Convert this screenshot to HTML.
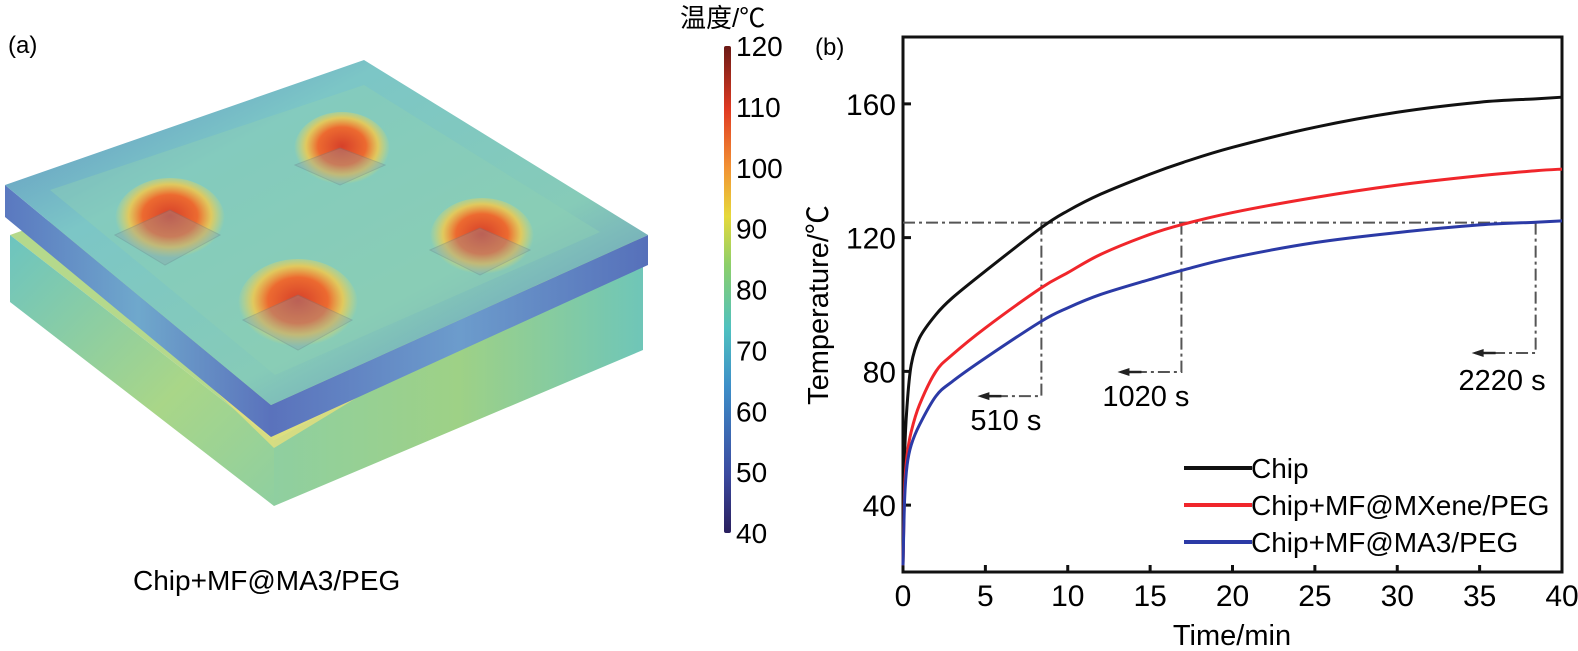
<!DOCTYPE html>
<html><head><meta charset="utf-8"><style>
body{margin:0;background:#fff;width:1578px;height:646px;overflow:hidden;font-family:"Liberation Sans","Noto Sans CJK SC",sans-serif}
text{font-family:"Liberation Sans","Noto Sans CJK SC",sans-serif}
</style></head><body>
<svg width="1578" height="646" viewBox="0 0 1578 646">
<defs>
<linearGradient id="cb" x1="0" y1="1" x2="0" y2="0">
<stop offset="0" stop-color="#2a1f5e"/><stop offset="0.12" stop-color="#3b4aa0"/><stop offset="0.3" stop-color="#3d8ec8"/><stop offset="0.42" stop-color="#4fc1c0"/><stop offset="0.55" stop-color="#8ccf6a"/><stop offset="0.65" stop-color="#e6d93a"/><stop offset="0.75" stop-color="#f29233"/><stop offset="0.87" stop-color="#e03a22"/><stop offset="1" stop-color="#6b1a16"/>
</linearGradient>
<linearGradient id="leftFace" x1="0" y1="0" x2="1" y2="1">
<stop offset="0" stop-color="#6cc4c0"/><stop offset="0.6" stop-color="#a9d688"/><stop offset="1" stop-color="#8fcfa0"/>
</linearGradient>
<linearGradient id="rightFace" x1="0" y1="0" x2="1" y2="0">
<stop offset="0" stop-color="#8fcfa0"/><stop offset="0.5" stop-color="#9ed186"/><stop offset="1" stop-color="#6fc6b8"/>
</linearGradient>
<linearGradient id="edgeL" x1="0" y1="0" x2="1" y2="0">
<stop offset="0" stop-color="#5a78c0"/><stop offset="0.5" stop-color="#6fa8cc"/><stop offset="1" stop-color="#5a72bc"/>
</linearGradient>
<linearGradient id="edgeR" x1="0" y1="0" x2="1" y2="0">
<stop offset="0" stop-color="#5a72bc"/><stop offset="0.5" stop-color="#6c9ccc"/><stop offset="1" stop-color="#5670ba"/>
</linearGradient>
<linearGradient id="topG" x1="0" y1="0" x2="1" y2="1">
<stop offset="0" stop-color="#5a86c4"/><stop offset="0.3" stop-color="#7cc6c6"/><stop offset="0.65" stop-color="#86cbb8"/><stop offset="1" stop-color="#5a80c0"/>
</linearGradient>
<radialGradient id="hot" cx="0.5" cy="0.45"><stop offset="0" stop-color="#d6402a"/><stop offset="0.5" stop-color="#ec6a30"/><stop offset="0.75" stop-color="#f0c84e" stop-opacity="0.85"/><stop offset="1" stop-color="#e8dc60" stop-opacity="0"/></radialGradient>
</defs>
<g>
<text x="8" y="53" font-size="24">(a)</text>
<polygon points="10,235 360,110 643,240 274,440" fill="#b5d98c"/>
<polygon points="10,235 274,440 274,506 10,302" fill="url(#leftFace)"/>
<polygon points="274,440 643,240 643,350 274,506" fill="url(#rightFace)"/>
<polygon points="60,240 274,430 600,250 274,448" fill="#ece07a" opacity="0.75"/>
<polygon points="5,185 271,405 271,437 5,217" fill="url(#edgeL)"/>
<polygon points="271,405 648,235 648,265 271,437" fill="url(#edgeR)"/>
<polygon points="5,185 364,60 648,235 271,405" fill="url(#topG)"/>
<polygon points="50,190 364,85 600,232 275,375" fill="#8fd0b4" opacity="0.45"/>
<ellipse cx="170" cy="220" rx="55" ry="42" fill="url(#hot)"/>
<ellipse cx="342" cy="150" rx="48" ry="38" fill="url(#hot)"/>
<ellipse cx="482" cy="238" rx="52" ry="40" fill="url(#hot)"/>
<ellipse cx="298" cy="305" rx="60" ry="46" fill="url(#hot)"/>
<g fill="#8a9ea8" opacity="0.35" stroke="#6a7f8a" stroke-width="1">
<polygon points="115,235 170,210 220,235 165,265"/><polygon points="295,165 340,148 385,165 340,185"/>
<polygon points="430,250 480,228 530,250 480,275"/><polygon points="243,320 298,295 352,320 298,350"/>
</g>
<text x="133" y="590" font-size="28">Chip+MF@MA3/PEG</text>
<rect x="724" y="46" width="7" height="487" rx="2" fill="url(#cb)"/>
<text x="680" y="27" font-size="26" font-family="'Noto Serif CJK SC',serif">温度/℃</text>
<g id="cbticks" font-size="28"></g>
</g>
<g>
<text x="815" y="55" font-size="24">(b)</text>
<g id="plot"></g>
<text x="0" y="0" font-size="29" transform="translate(828,305) rotate(-90)" text-anchor="middle">Temperature/℃</text>
<text x="1232" y="645" font-size="29" text-anchor="middle">Time/min</text>
</g>
</svg>
<script>
const cbTicks=[40,50,60,70,80,90,100,110,120];
const xTicks=[0,5,10,15,20,25,30,35,40];
const yTicks=[40,80,120,160];
const times=[0,0.1,0.25,0.5,1,2,3,5,8.4,10,12,15,17,20,25,30,35,38.4,40];
const chip=[22,55,70,82,90,97,102,110,123,128,133,139,142.5,147,153,157.5,160.5,161.5,162];
const mxene=[22,45,55,62,70,80,85,93,105,109.5,115,121,124,127.5,132,135.7,138.5,140,140.5];
const ma3=[22,42,52,58,64,72.6,77,84,95,99,103,107.5,110.3,114,118.5,121.5,123.8,124.6,125];
const refTimes=[8.4,16.9,38.4];
const refLabels=["510 s","1020 s","2220 s"];
const refArrowY=[72.6,79.8,85.5];
const refTemp=124.5;
const seriesNames=["Chip","Chip+MF@MXene/PEG","Chip+MF@MA3/PEG"];
const NS="http://www.w3.org/2000/svg";
function mk(t,a,p){const e=document.createElementNS(NS,t);for(const k in a)e.setAttribute(k,a[k]);p.appendChild(e);return e;}
const cbg=document.getElementById('cbticks');
const cbY=v=>533-(v-40)/80*487;
cbTicks.forEach(v=>{const t=mk('text',{x:736,y:cbY(v)+10},cbg);t.textContent=v;

});
const L=903,R=1562,T=37,B=572,XMIN=0,XMAX=40,YMIN=20,YMAX=180;
const X=v=>L+(v-XMIN)/(XMAX-XMIN)*(R-L);
const Y=v=>B-(v-YMIN)/(YMAX-YMIN)*(B-T);
const g=document.getElementById('plot');
const box=mk('rect',{x:L,y:T,width:R-L,height:B-T,fill:'none',stroke:'#111','stroke-width':3},g);


xTicks.forEach(v=>{mk('line',{x1:X(v),x2:X(v),y1:B,y2:B-7,stroke:'#111','stroke-width':3},g);
const t=mk('text',{x:X(v),y:B+34,'font-size':30,'text-anchor':'middle'},g);t.textContent=v;

});
yTicks.forEach(v=>{mk('line',{x1:L,x2:L+8,y1:Y(v),y2:Y(v),stroke:'#111','stroke-width':3},g);
const t=mk('text',{x:L-7,y:Y(v)+11,'font-size':30,'text-anchor':'end'},g);t.textContent=v;

});
const dash='12,4,3,4';
const hl=mk('line',{x1:X(0),x2:X(refTimes[2]),y1:Y(refTemp),y2:Y(refTemp),stroke:'#555','stroke-width':2,'stroke-dasharray':dash},g);


refTimes.forEach((tm,i)=>{
const x=X(tm),ya=Y(refArrowY[i]);
const vl=mk('polyline',{points:`${x},${Y(refTemp)} ${x},${ya} ${x-58},${ya}`,fill:'none',stroke:'#555','stroke-width':2,'stroke-dasharray':dash},g);


mk('line',{x1:x-60,x2:x-40,y1:ya,y2:ya,stroke:'#222','stroke-width':2.5},g);
mk('polygon',{points:`${x-64},${ya} ${x-52},${ya-4} ${x-52},${ya+4}`,fill:'#222'},g);
const t=mk('text',{x:x+(i==1?8:(i==2?10:0)),y:ya+(i==2?37:34),'font-size':29,'text-anchor':'end'},g);t.textContent=refLabels[i];


});
function smooth(pts){let d=`M${pts[0][0]},${pts[0][1]}`;
for(let i=0;i<pts.length-1;i++){const p0=pts[Math.max(0,i-1)],p1=pts[i],p2=pts[i+1],p3=pts[Math.min(pts.length-1,i+2)];
const c1=[p1[0]+(p2[0]-p0[0])/6,p1[1]+(p2[1]-p0[1])/6],c2=[p2[0]-(p3[0]-p1[0])/6,p2[1]-(p3[1]-p1[1])/6];
d+=` C${c1[0]},${c1[1]} ${c2[0]},${c2[1]} ${p2[0]},${p2[1]}`;}return d;}
const cols=['#111','#f0262b','#2b3aa6'];
[chip,mxene,ma3].forEach((s,i)=>{
const p=mk('path',{d:smooth(s.map((v,j)=>[X(times[j]),Y(v)])),fill:'none',stroke:cols[i],'stroke-width':3,'stroke-linejoin':'round'},g);


const ly=468+i*37;
const ll=mk('line',{x1:1184,x2:1252,y1:ly,y2:ly,stroke:cols[i],'stroke-width':4},g);


const lt=mk('text',{x:1251,y:ly+10,'font-size':28},g);lt.textContent=seriesNames[i];


});
</script>
</body></html>
